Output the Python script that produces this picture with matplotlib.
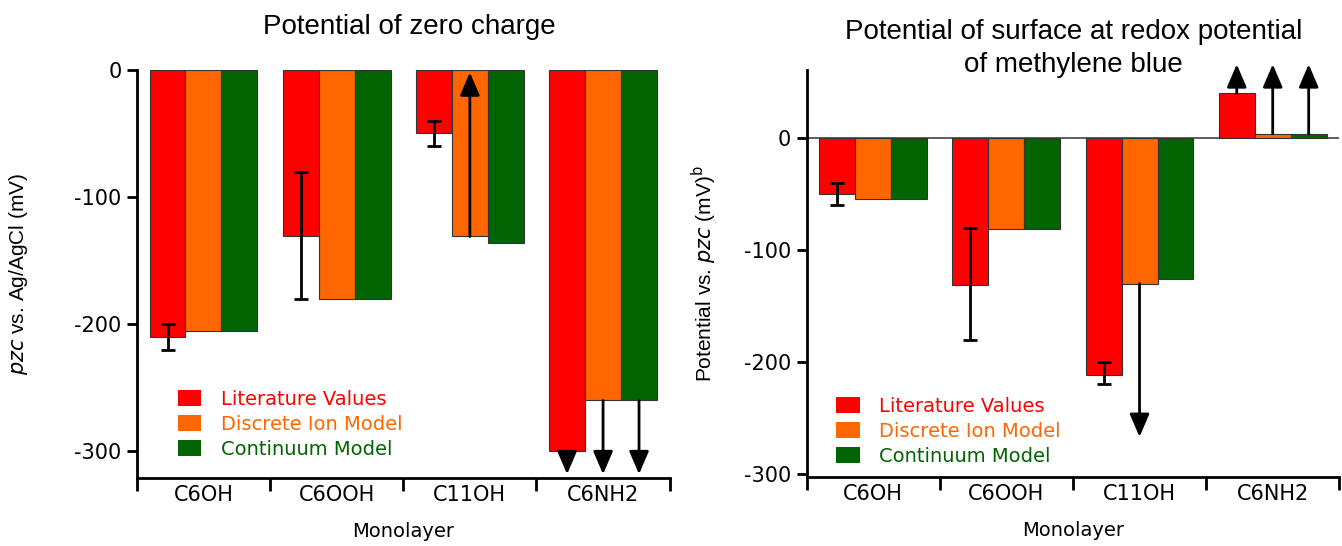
import matplotlib.pyplot as plt
from matplotlib.patches import Patch
import numpy as np

plt.rcParams['font.family'] = ['Liberation Sans', 'DejaVu Sans']
plt.rcParams['axes.unicode_minus'] = False

monolayers = ["C6OH", "C6OOH", "C11OH", "C6NH2"]
series = ["Literature Values", "Discrete Ion Model", "Continuum Model"]
colors = ["#ff0000", "#ff6600", "#006400"]

# left panel: potential of zero charge vs Ag/AgCl (mV)
pzc_lit = [-210, -131, -50, -300]
pzc_disc = [-205, -180, -131, -260]
pzc_cont = [-205, -180, -136, -260]
pzc_err_top = [-200, -80, -40, np.nan]
pzc_err_bot = [-220, -180, -60, np.nan]
# arrows: (monolayer index, series index, arrow tip value)
pzc_arrows = [(2, 1, -2), (3, 0, -318), (3, 1, -318), (3, 2, -318)]

# right panel: surface potential at methylene blue redox potential vs pzc (mV)
mb_lit = [-50, -131, -212, 40]
mb_disc = [-54, -81, -130, 4]
mb_cont = [-54, -81, -126, 4]
mb_err_top = [-40, -80, -200, np.nan]
mb_err_bot = [-60, -180, -220, np.nan]
mb_arrows = [(2, 1, -267), (3, 0, 66), (3, 1, 66), (3, 2, 66)]

fig = plt.figure(figsize=(13.42, 5.46), dpi=100)
ax1 = fig.add_axes([0.102, 0.1245, 0.397, 0.7475])
ax2 = fig.add_axes([0.601, 0.126, 0.397, 0.746])

width = 0.27
x = np.arange(len(monolayers))


def draw_panel(ax, values, err_top, err_bot, arrows, ylim, ylabel, leg_xy):
    for i, vals in enumerate(values):
        ax.bar(x + (i - 1) * width, vals, width, color=colors[i],
               edgecolor='#333333', linewidth=0.8, zorder=2)
    lit = np.array(values[0], dtype=float)
    top = np.array(err_top, dtype=float)
    bot = np.array(err_bot, dtype=float)
    ok = ~np.isnan(top)
    ax.errorbar(x[ok] - width, lit[ok], yerr=[lit[ok] - bot[ok], top[ok] - lit[ok]],
                fmt='none', ecolor='black', elinewidth=2, capsize=5, capthick=2, zorder=3)
    for g, s, tip in arrows:
        xa = x[g] + (s - 1) * width
        ax.annotate('', xy=(xa, tip), xytext=(xa, values[s][g]),
                    arrowprops=dict(arrowstyle='-|>,head_width=0.6,head_length=1.4',
                                    color='black', lw=2, shrinkA=0, shrinkB=0),
                    annotation_clip=False, zorder=4)
    ax.set_xlim(-0.5, 3.5)
    ax.set_ylim(*ylim)
    ax.set_yticks([0, -100, -200, -300])
    ax.set_yticklabels(['0', '-100', '-200', '-300'], family='DejaVu Sans', fontsize=15)
    ax.tick_params(axis='y', length=7, width=2, pad=4)
    ax.set_xticks([-0.5, 0.5, 1.5, 2.5, 3.5])
    ax.set_xticklabels([])
    ax.set_xticks(x, minor=True)
    ax.set_xticklabels(monolayers, minor=True, fontsize=15, family='DejaVu Sans')
    ax.tick_params(axis='x', which='major', length=9, width=2)
    ax.tick_params(axis='x', which='minor', length=0, pad=5)
    for side in ['top', 'right']:
        ax.spines[side].set_visible(False)
    for side in ['left', 'bottom']:
        ax.spines[side].set_linewidth(2)
    ax.set_xlabel("Monolayer", fontsize=14, family='DejaVu Sans', labelpad=12)
    ax.set_ylabel(ylabel, fontsize=15)
    handles = [Patch(facecolor=c, edgecolor='none') for c in colors]
    ax.legend(handles, series, loc='upper left', bbox_to_anchor=leg_xy,
              frameon=False, labelcolor=colors, handlelength=1.2,
              handleheight=0.9, handletextpad=1.0, labelspacing=0.3,
              borderpad=0, borderaxespad=0, prop={'family': 'DejaVu Sans', 'size': 14})


draw_panel(ax1, [pzc_lit, pzc_disc, pzc_cont], pzc_err_top, pzc_err_bot, pzc_arrows,
           (-321, 0), r"$\it{pzc}$ vs. Ag/AgCl (mV)", (0.077, 0.216))
draw_panel(ax2, [mb_lit, mb_disc, mb_cont], mb_err_top, mb_err_bot, mb_arrows,
           (-303, 61), r"Potential vs. $\it{pzc}$ (mV)$^{\rm b}$", (0.056, 0.197))
ax2.axhline(0, color='#444444', lw=1.2, zorder=1)
ax1.yaxis.set_label_coords(-0.2, 0.5)
ax2.yaxis.set_label_coords(-0.165, 0.5)

fig.text(0.305, 0.95, "Potential of zero charge", ha='center', va='center', fontsize=20)
fig.text(0.8, 0.912, "Potential of surface at redox potential\nof methylene blue",
         ha='center', va='center', fontsize=20, linespacing=1.35)

fig.savefig('out.png', dpi=100)
